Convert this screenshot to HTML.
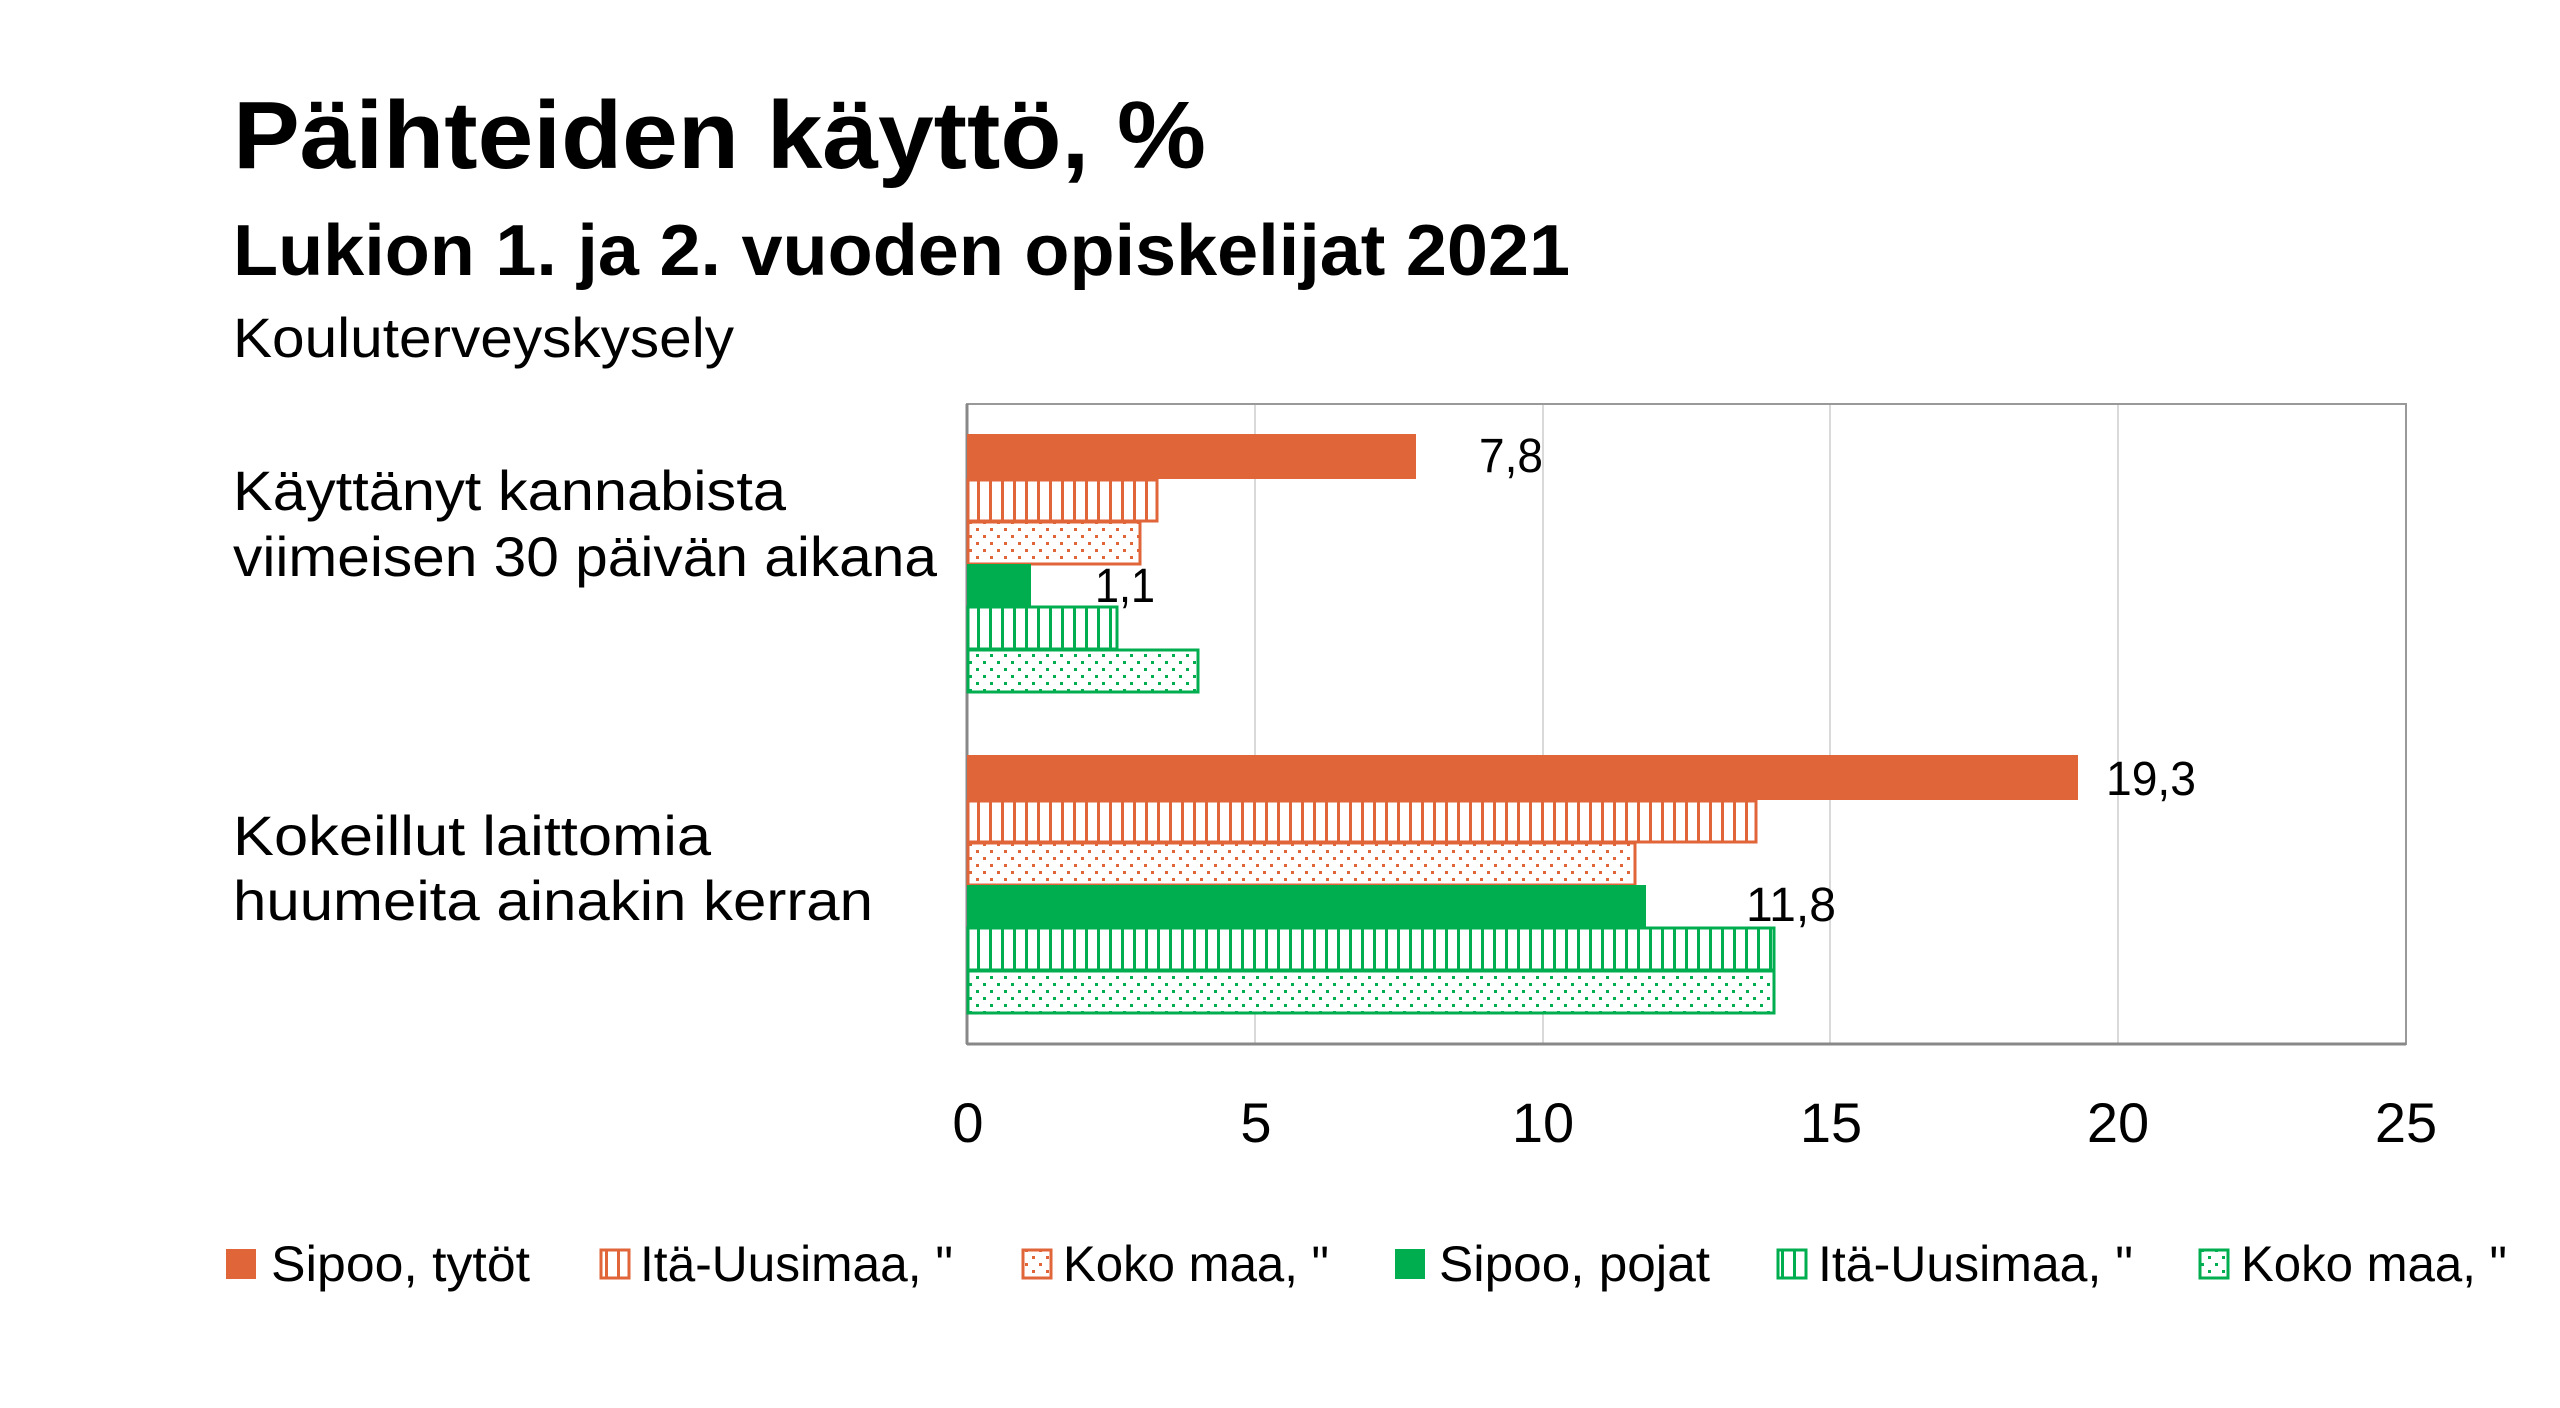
<!DOCTYPE html>
<html><head><meta charset="utf-8"><style>html,body{margin:0;padding:0;background:#fff}svg{display:block}</style></head>
<body>
<svg width="2560" height="1408" viewBox="0 0 2560 1408" xmlns="http://www.w3.org/2000/svg" font-family="'Liberation Sans', sans-serif">
<defs>
<pattern id="vo" width="12" height="10" patternUnits="userSpaceOnUse"><rect width="12" height="10" fill="#fff"/><rect x="5" width="3" height="10" fill="#E0663A"/></pattern>
<pattern id="vg" width="12" height="10" patternUnits="userSpaceOnUse"><rect width="12" height="10" fill="#fff"/><rect x="5" width="3" height="10" fill="#00AE4F"/></pattern>
<pattern id="do" width="14" height="14" patternUnits="userSpaceOnUse"><rect width="14" height="14" fill="#fff"/><rect x="3" y="3" width="3" height="3" fill="#E0663A"/><rect x="10" y="10" width="3" height="3" fill="#E0663A"/></pattern>
<pattern id="dg" width="14" height="14" patternUnits="userSpaceOnUse"><rect width="14" height="14" fill="#fff"/><rect x="3" y="3" width="3" height="3" fill="#00AE4F"/><rect x="10" y="10" width="3" height="3" fill="#00AE4F"/></pattern>
</defs>
<text x="233" y="168" font-size="96" font-weight="bold" textLength="973" lengthAdjust="spacingAndGlyphs">Päihteiden käyttö, %</text>
<text x="233" y="275" font-size="72" font-weight="bold" textLength="1337" lengthAdjust="spacingAndGlyphs">Lukion 1. ja 2. vuoden opiskelijat 2021</text>
<text x="233" y="357" font-size="56" textLength="501" lengthAdjust="spacingAndGlyphs">Kouluterveyskysely</text>
<g font-size="56">
<text x="233" y="510" textLength="553" lengthAdjust="spacingAndGlyphs">Käyttänyt kannabista</text>
<text x="233" y="576" textLength="704" lengthAdjust="spacingAndGlyphs">viimeisen 30 päivän aikana</text>
<text x="233" y="855" textLength="478" lengthAdjust="spacingAndGlyphs">Kokeillut laittomia</text>
<text x="233" y="920" textLength="640" lengthAdjust="spacingAndGlyphs">huumeita ainakin kerran</text>
</g>
<g stroke="#d9d9d9" stroke-width="2">
<line x1="1255" y1="404" x2="1255" y2="1044"/><line x1="1543" y1="404" x2="1543" y2="1044"/><line x1="1830" y1="404" x2="1830" y2="1044"/><line x1="2118" y1="404" x2="2118" y2="1044"/>
</g>
<rect x="967" y="404" width="1439" height="640" fill="none" stroke="#999" stroke-width="2"/>
<line x1="967" y1="1044" x2="2406" y2="1044" stroke="#888" stroke-width="3"/>
<line x1="967" y1="404" x2="967" y2="1044" stroke="#888" stroke-width="3"/>
<g stroke-width="3">
<rect x="967" y="434" width="449" height="45" fill="#E0663A"/>
<rect x="968" y="480" width="189" height="41" fill="url(#vo)" stroke="#E0663A"/>
<rect x="968" y="522" width="172" height="42" fill="url(#do)" stroke="#E0663A"/>
<rect x="967" y="564" width="64" height="42" fill="#00AE4F"/>
<rect x="968" y="607" width="149" height="42" fill="url(#vg)" stroke="#00AE4F"/>
<rect x="968" y="650" width="230" height="42" fill="url(#dg)" stroke="#00AE4F"/>
<rect x="967" y="755" width="1111" height="45" fill="#E0663A"/>
<rect x="968" y="801" width="788" height="41" fill="url(#vo)" stroke="#E0663A"/>
<rect x="968" y="843" width="667" height="42" fill="url(#do)" stroke="#E0663A"/>
<rect x="967" y="885" width="679" height="42" fill="#00AE4F"/>
<rect x="968" y="928" width="806" height="42" fill="url(#vg)" stroke="#00AE4F"/>
<rect x="968" y="971" width="806" height="42" fill="url(#dg)" stroke="#00AE4F"/>
</g>
<g font-size="48">
<text x="1479" y="472" textLength="64" lengthAdjust="spacingAndGlyphs">7,8</text>
<text x="1095" y="602" textLength="60" lengthAdjust="spacingAndGlyphs">1,1</text>
<text x="2106" y="795" textLength="90" lengthAdjust="spacingAndGlyphs">19,3</text>
<text x="1746" y="921" textLength="90" lengthAdjust="spacingAndGlyphs">11,8</text>
</g>
<g font-size="56" text-anchor="middle">
<text x="968" y="1142">0</text><text x="1256" y="1142">5</text><text x="1543" y="1142">10</text><text x="1831" y="1142">15</text><text x="2118" y="1142">20</text><text x="2406" y="1142">25</text>
</g>
<g font-size="50">
<rect x="226" y="1249" width="30" height="30" fill="#E0663A"/>
<text x="271" y="1281" textLength="259" lengthAdjust="spacingAndGlyphs">Sipoo, tytöt</text>
<rect x="601" y="1250" width="28" height="28" fill="url(#vo)" stroke="#E0663A" stroke-width="3"/>
<text x="640" y="1281" textLength="313" lengthAdjust="spacingAndGlyphs">Itä-Uusimaa, "</text>
<rect x="1023" y="1250" width="28" height="28" fill="url(#do)" stroke="#E0663A" stroke-width="3"/>
<text x="1063" y="1281" textLength="266" lengthAdjust="spacingAndGlyphs">Koko maa, "</text>
<rect x="1395" y="1249" width="30" height="30" fill="#00AE4F"/>
<text x="1439" y="1281" textLength="271" lengthAdjust="spacingAndGlyphs">Sipoo, pojat</text>
<rect x="1778" y="1250" width="28" height="28" fill="url(#vg)" stroke="#00AE4F" stroke-width="3"/>
<text x="1818" y="1281" textLength="315" lengthAdjust="spacingAndGlyphs">Itä-Uusimaa, "</text>
<rect x="2200" y="1250" width="28" height="28" fill="url(#dg)" stroke="#00AE4F" stroke-width="3"/>
<text x="2241" y="1281" textLength="266" lengthAdjust="spacingAndGlyphs">Koko maa, "</text>
</g>
</svg>
</body></html>
